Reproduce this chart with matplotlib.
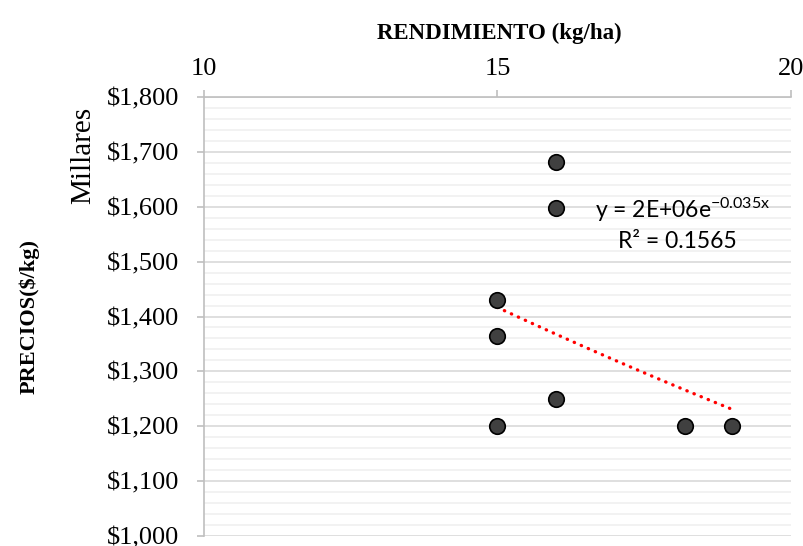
import matplotlib.pyplot as plt
import numpy as np
from matplotlib.ticker import FuncFormatter, MultipleLocator

# rendimiento (kg/ha) vs precios (miles de $/kg)
rendimiento = [15, 15, 15, 16, 16, 16, 18.2, 19]
precios = [1431, 1364, 1200, 1682, 1598, 1250, 1200, 1200]

y_ticks = [1000, 1100, 1200, 1300, 1400, 1500, 1600, 1700, 1800]
x_ticks = [10, 15, 20]


def pesos(v, pos):
    return '${:,.0f}'.format(v)


fig = plt.figure(figsize=(8.04, 5.46), dpi=100)
ax = fig.add_axes([0.2537, 0.0183, 0.730, 0.804])

ax.scatter(rendimiento, precios, s=125, color='#404040', edgecolors='black',
           linewidths=1.2, zorder=3)

# exponential trend line (like Excel)
b, ln_a = np.polyfit(rendimiento, np.log(precios), 1)
xt = np.linspace(min(rendimiento), max(rendimiento), 50)
ax.plot(xt, np.exp(ln_a) * np.exp(b * xt), color='red', linestyle=(0, (0.1, 2.2)),
        linewidth=2.4, dash_capstyle='round', zorder=2)

ax.set_xlim(10, 20)
ax.set_ylim(1000, 1800)
ax.set_xticks(x_ticks)
ax.set_yticks(y_ticks)
ax.yaxis.set_minor_locator(MultipleLocator(20))
ax.yaxis.set_major_formatter(FuncFormatter(pesos))

ax.xaxis.tick_top()
ax.grid(axis='y', which='major', color='#d9d9d9', linewidth=1.2)
ax.grid(axis='y', which='minor', color='#f0f0f0', linewidth=1.2)
ax.set_axisbelow(True)

for s in ['right', 'bottom']:
    ax.spines[s].set_visible(False)
for s in ['left', 'top']:
    ax.spines[s].set_color('#bfbfbf')
    ax.spines[s].set_linewidth(1.2)

ax.tick_params(axis='both', which='major', color='#bfbfbf', length=5, width=1.2,
               labelsize=19)
ax.tick_params(axis='y', which='major', pad=13)
ax.tick_params(axis='x', which='major', pad=7)
ax.tick_params(axis='y', which='minor', length=0)
for lbl in ax.get_xticklabels() + ax.get_yticklabels():
    lbl.set_fontfamily('Liberation Serif')

fig.text(0.621, 0.9396, 'RENDIMIENTO (kg/ha)', fontfamily='Liberation Serif',
         fontweight='bold', fontsize=16.5, ha='center', va='center')
fig.text(0.1035, 0.716, 'Millares', rotation=90, fontfamily='Liberation Serif',
         fontsize=21, ha='center', va='center')
fig.text(0.036, 0.421, 'PRECIOS($/kg)', rotation=90, fontfamily='Liberation Serif',
         fontweight='bold', fontsize=16, ha='center', va='center')

fig.text(0.740, 0.6154, 'y = 2E+06e$\\mathregular{^{-0.035x}}$',
         fontfamily='Lato', fontsize=16.5, ha='left', va='center')
fig.text(0.7687, 0.5568, 'R² = 0.1565',
         fontfamily='Lato', fontsize=16.5, ha='left', va='center')

fig.savefig('out.png', dpi=100)
